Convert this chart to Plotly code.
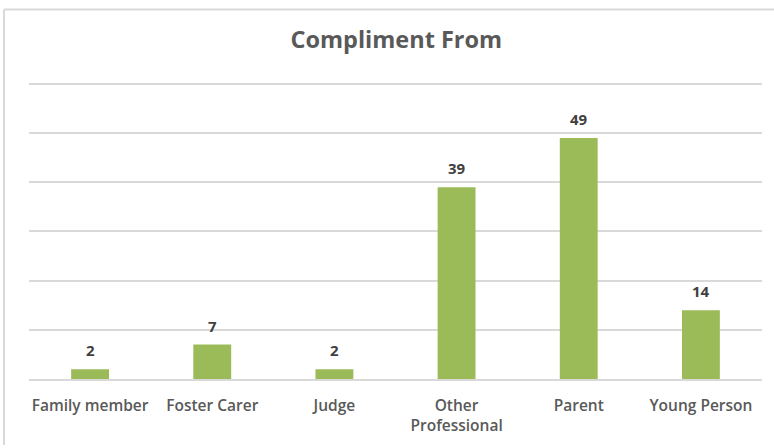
import plotly.graph_objects as go

# Compliment counts by source
categories = ["Family member", "Foster Carer", "Judge", "Other<br>Professional", "Parent", "Young Person"]
counts = [2, 7, 2, 39, 49, 14]

BAR_GREEN = "#9BBB59"
GRID_GREY = "#D9D9D9"
TEXT_GREY = "#595959"
LABEL_DARK = "#404040"
FONT = "Open Sans"

fig = go.Figure(
    go.Bar(
        x=categories,
        y=counts,
        marker=dict(color=BAR_GREEN, line=dict(width=0)),
        width=0.31,
        hoverinfo="skip",
    )
)

# Value labels above each bar
for cat, val in zip(categories, counts):
    fig.add_annotation(
        x=cat, y=val, text=f"<b>{val}</b>", showarrow=False,
        yanchor="bottom", yshift=7,
        font=dict(family=FONT, size=15, color=LABEL_DARK),
    )

# Chart frame: top and left edges only
fig.add_shape(
    type="line", xref="paper", yref="paper",
    x0=-0.0341, x1=1.02, y0=1.232, y1=1.232,
    line=dict(color=GRID_GREY, width=2), layer="below",
)
fig.add_shape(
    type="line", xref="paper", yref="paper",
    x0=-0.0341, x1=-0.0341, y0=-0.22, y1=1.232,
    line=dict(color=GRID_GREY, width=2), layer="below",
)

fig.update_layout(
    width=774, height=448,
    margin=dict(l=29, r=12, t=79, b=64),
    paper_bgcolor="white", plot_bgcolor="white",
    showlegend=False,
    title=dict(
        text="Compliment From", x=0.512, xanchor="center",
        y=1 - 40 / 448, yanchor="middle",
        font=dict(family=FONT, size=23.5, color=TEXT_GREY, weight=700),
    ),
    xaxis=dict(
        showgrid=False, showline=True, linecolor=GRID_GREY, linewidth=2,
        ticks="outside", ticklen=11, tickcolor="rgba(0,0,0,0)",
        tickfont=dict(family=FONT, size=15.5, color=TEXT_GREY, weight=600),
        fixedrange=True,
    ),
    yaxis=dict(
        range=[0, 61], tickvals=[10, 20, 30, 40, 50, 60],
        showgrid=True, gridcolor=GRID_GREY, gridwidth=2,
        showticklabels=False, zeroline=False, showline=False, fixedrange=True,
    ),
)

fig.write_html("out.html", config={"displayModeBar": False})
